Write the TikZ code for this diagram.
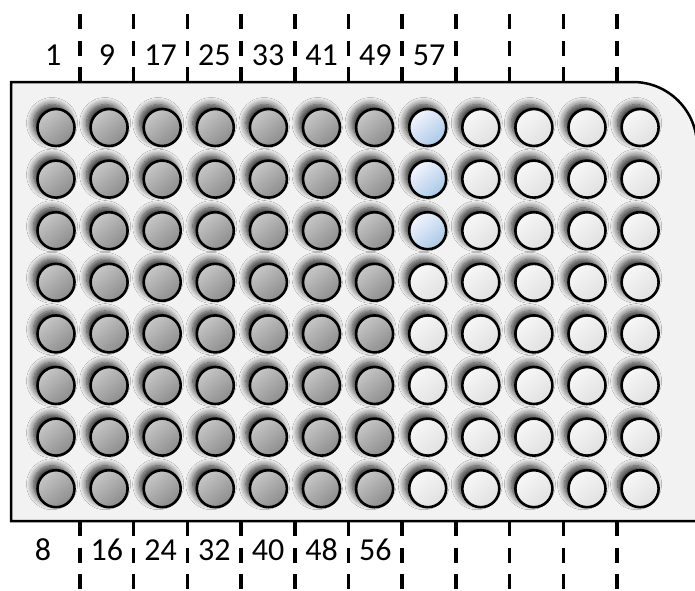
\documentclass[tikz,border=0pt]{standalone}
\usepackage{fontspec}
\setmainfont{Carlito}
\usepackage{xcolor}
\usepackage{tikz}
\usetikzlibrary{shadows.blur}

\definecolor{wellblue}{HTML}{A9C8E6}

\begin{document}
\begin{tikzpicture}[
        x=1pt, y=-1pt,
        plate/.style={draw, line width=2.5pt, fill=black!5},
        well/.style={circle, draw, line width=2.6pt, minimum size=37pt, inner sep=0pt,
            blur shadow={shadow xshift=-4pt, shadow yshift=4.5pt, shadow blur radius=7pt, shadow blur steps=10, shadow opacity=85}},
        fullwell/.style={well, top color=black!22, bottom color=black!45, shading angle=40},
        bluewell/.style={well, top color=blue!4!white, bottom color=wellblue, shading angle=40},
        emptywell/.style={well, top color=black!3, bottom color=black!12, shading angle=40},
        num/.style={font={\fontsize{32}{38}\selectfont}, inner sep=0pt},
        tick/.style={line width=3.5pt, dash pattern=on 15pt off 11.5pt}
    ]
        \useasboundingbox (0, 0) rectangle (695, 590);

        % Plate
        \draw [plate] (11, 521) -- (11, 82) -- (633, 82) arc[start angle=90, end angle=0, radius=64pt] -- (697, 521) -- cycle;

        % Wells (columns 1-7 filled)
        \foreach \c in {1,...,7}
            \foreach \r in {1,...,8}
                \node (w\c-\r) [fullwell] at ({56+53.1*(\c-1)}, {127.5+51.6*(\r-1)}) {};

        % Wells (column 8)
        \foreach \r in {1,...,3}
            \node (w8-\r) [bluewell] at ({56+53.1*7}, {127.5+51.6*(\r-1)}) {};
        \foreach \r in {4,...,8}
            \node (w8-\r) [emptywell] at ({56+53.1*7}, {127.5+51.6*(\r-1)}) {};

        % Wells (columns 9-12 empty)
        \foreach \c in {9,...,12}
            \foreach \r in {1,...,8}
                \node (w\c-\r) [emptywell] at ({56+53.1*(\c-1)}, {127.5+51.6*(\r-1)}) {};

        % Column separators
        \foreach \k in {0,...,10} {
            \coordinate (sepA\k) at ({80+53.7*\k}, 82);
            \coordinate (sepB\k) at ({80+53.7*\k}, 13);
            \coordinate (sepC\k) at ({80+53.7*\k}, 521);
            \coordinate (sepD\k) at ({80+53.7*\k}, 591);
            \draw [tick] (sepA\k) -- (sepB\k);
            \draw [tick] (sepC\k) -- (sepD\k);
        }

        % Labels (top row)
        \foreach \n [count=\i] in {1,9,17,25,33,41,49,57}
            \node (top\n) [num] at ({53.2+53.7*(\i-1)}, 55.5) {\n};

        % Labels (bottom row)
        \node (bot8) [num] at (43, 550) {8};
        \foreach \n [count=\i] in {16,24,32,40,48,56}
            \node (bot\n) [num] at ({53.2+53.7*\i}, 550) {\n};
    \end{tikzpicture}
\end{document}
